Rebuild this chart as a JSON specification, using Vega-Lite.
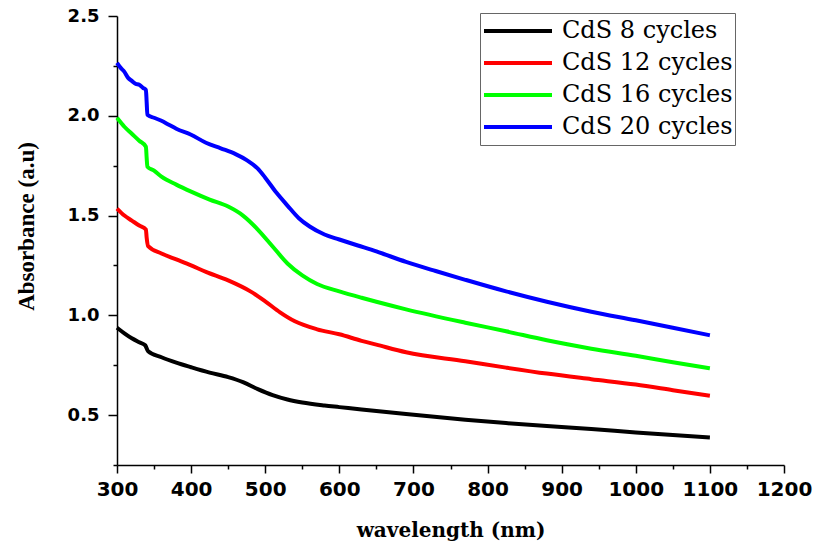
{
  "$schema": "https://vega.github.io/schema/vega-lite/v6.json",
  "width": 667,
  "height": 449,
  "autosize": {"type": "none"},
  "padding": {"left": 117, "top": 16, "right": 29, "bottom": 80},
  "background": "white",
  "data": {
    "values": [
      {"series": "CdS 20 cycles", "wl": 300, "abs": 2.265},
      {"series": "CdS 20 cycles", "wl": 305, "abs": 2.24},
      {"series": "CdS 20 cycles", "wl": 310, "abs": 2.22},
      {"series": "CdS 20 cycles", "wl": 315, "abs": 2.19},
      {"series": "CdS 20 cycles", "wl": 320, "abs": 2.175},
      {"series": "CdS 20 cycles", "wl": 325, "abs": 2.16},
      {"series": "CdS 20 cycles", "wl": 330, "abs": 2.155},
      {"series": "CdS 20 cycles", "wl": 335, "abs": 2.14},
      {"series": "CdS 20 cycles", "wl": 339, "abs": 2.13},
      {"series": "CdS 20 cycles", "wl": 340, "abs": 2.07},
      {"series": "CdS 20 cycles", "wl": 341, "abs": 2.005},
      {"series": "CdS 20 cycles", "wl": 350, "abs": 1.99},
      {"series": "CdS 20 cycles", "wl": 360, "abs": 1.975},
      {"series": "CdS 20 cycles", "wl": 370, "abs": 1.955},
      {"series": "CdS 20 cycles", "wl": 380, "abs": 1.935},
      {"series": "CdS 20 cycles", "wl": 400, "abs": 1.905},
      {"series": "CdS 20 cycles", "wl": 420, "abs": 1.865},
      {"series": "CdS 20 cycles", "wl": 440, "abs": 1.837},
      {"series": "CdS 20 cycles", "wl": 460, "abs": 1.808},
      {"series": "CdS 20 cycles", "wl": 475, "abs": 1.778},
      {"series": "CdS 20 cycles", "wl": 490, "abs": 1.735},
      {"series": "CdS 20 cycles", "wl": 500, "abs": 1.69},
      {"series": "CdS 20 cycles", "wl": 515, "abs": 1.615},
      {"series": "CdS 20 cycles", "wl": 530, "abs": 1.55},
      {"series": "CdS 20 cycles", "wl": 545, "abs": 1.488},
      {"series": "CdS 20 cycles", "wl": 560, "abs": 1.445},
      {"series": "CdS 20 cycles", "wl": 580, "abs": 1.405},
      {"series": "CdS 20 cycles", "wl": 600, "abs": 1.38},
      {"series": "CdS 20 cycles", "wl": 625, "abs": 1.35},
      {"series": "CdS 20 cycles", "wl": 650, "abs": 1.32},
      {"series": "CdS 20 cycles", "wl": 690, "abs": 1.268},
      {"series": "CdS 20 cycles", "wl": 730, "abs": 1.222},
      {"series": "CdS 20 cycles", "wl": 770, "abs": 1.178},
      {"series": "CdS 20 cycles", "wl": 825, "abs": 1.12},
      {"series": "CdS 20 cycles", "wl": 880, "abs": 1.068},
      {"series": "CdS 20 cycles", "wl": 940, "abs": 1.018},
      {"series": "CdS 20 cycles", "wl": 1000, "abs": 0.975},
      {"series": "CdS 20 cycles", "wl": 1050, "abs": 0.938},
      {"series": "CdS 20 cycles", "wl": 1100, "abs": 0.9},

      {"series": "CdS 16 cycles", "wl": 300, "abs": 1.99},
      {"series": "CdS 16 cycles", "wl": 310, "abs": 1.945},
      {"series": "CdS 16 cycles", "wl": 320, "abs": 1.91},
      {"series": "CdS 16 cycles", "wl": 330, "abs": 1.875},
      {"series": "CdS 16 cycles", "wl": 339, "abs": 1.845},
      {"series": "CdS 16 cycles", "wl": 340, "abs": 1.79},
      {"series": "CdS 16 cycles", "wl": 341, "abs": 1.745},
      {"series": "CdS 16 cycles", "wl": 350, "abs": 1.725},
      {"series": "CdS 16 cycles", "wl": 360, "abs": 1.695},
      {"series": "CdS 16 cycles", "wl": 380, "abs": 1.655},
      {"series": "CdS 16 cycles", "wl": 400, "abs": 1.62},
      {"series": "CdS 16 cycles", "wl": 425, "abs": 1.58},
      {"series": "CdS 16 cycles", "wl": 450, "abs": 1.545},
      {"series": "CdS 16 cycles", "wl": 470, "abs": 1.5},
      {"series": "CdS 16 cycles", "wl": 490, "abs": 1.43},
      {"series": "CdS 16 cycles", "wl": 510, "abs": 1.345},
      {"series": "CdS 16 cycles", "wl": 530, "abs": 1.26},
      {"series": "CdS 16 cycles", "wl": 550, "abs": 1.2},
      {"series": "CdS 16 cycles", "wl": 570, "abs": 1.157},
      {"series": "CdS 16 cycles", "wl": 600, "abs": 1.12},
      {"series": "CdS 16 cycles", "wl": 630, "abs": 1.088},
      {"series": "CdS 16 cycles", "wl": 650, "abs": 1.068},
      {"series": "CdS 16 cycles", "wl": 690, "abs": 1.03},
      {"series": "CdS 16 cycles", "wl": 770, "abs": 0.963},
      {"series": "CdS 16 cycles", "wl": 825, "abs": 0.92},
      {"series": "CdS 16 cycles", "wl": 880, "abs": 0.875},
      {"series": "CdS 16 cycles", "wl": 940, "abs": 0.833},
      {"series": "CdS 16 cycles", "wl": 1000, "abs": 0.797},
      {"series": "CdS 16 cycles", "wl": 1050, "abs": 0.765},
      {"series": "CdS 16 cycles", "wl": 1100, "abs": 0.735},

      {"series": "CdS 12 cycles", "wl": 300, "abs": 1.535},
      {"series": "CdS 12 cycles", "wl": 310, "abs": 1.5},
      {"series": "CdS 12 cycles", "wl": 320, "abs": 1.475},
      {"series": "CdS 12 cycles", "wl": 330, "abs": 1.45},
      {"series": "CdS 12 cycles", "wl": 339, "abs": 1.43},
      {"series": "CdS 12 cycles", "wl": 340, "abs": 1.39},
      {"series": "CdS 12 cycles", "wl": 342, "abs": 1.347},
      {"series": "CdS 12 cycles", "wl": 360, "abs": 1.31},
      {"series": "CdS 12 cycles", "wl": 380, "abs": 1.28},
      {"series": "CdS 12 cycles", "wl": 400, "abs": 1.25},
      {"series": "CdS 12 cycles", "wl": 420, "abs": 1.218},
      {"series": "CdS 12 cycles", "wl": 450, "abs": 1.175},
      {"series": "CdS 12 cycles", "wl": 480, "abs": 1.12},
      {"series": "CdS 12 cycles", "wl": 500, "abs": 1.07},
      {"series": "CdS 12 cycles", "wl": 520, "abs": 1.015},
      {"series": "CdS 12 cycles", "wl": 540, "abs": 0.97},
      {"series": "CdS 12 cycles", "wl": 570, "abs": 0.93},
      {"series": "CdS 12 cycles", "wl": 600, "abs": 0.905},
      {"series": "CdS 12 cycles", "wl": 630, "abs": 0.872},
      {"series": "CdS 12 cycles", "wl": 650, "abs": 0.853},
      {"series": "CdS 12 cycles", "wl": 690, "abs": 0.815},
      {"series": "CdS 12 cycles", "wl": 770, "abs": 0.77},
      {"series": "CdS 12 cycles", "wl": 825, "abs": 0.738},
      {"series": "CdS 12 cycles", "wl": 880, "abs": 0.708},
      {"series": "CdS 12 cycles", "wl": 940, "abs": 0.68},
      {"series": "CdS 12 cycles", "wl": 1000, "abs": 0.653},
      {"series": "CdS 12 cycles", "wl": 1050, "abs": 0.625},
      {"series": "CdS 12 cycles", "wl": 1100, "abs": 0.597},

      {"series": "CdS 8 cycles", "wl": 300, "abs": 0.938},
      {"series": "CdS 8 cycles", "wl": 310, "abs": 0.91},
      {"series": "CdS 8 cycles", "wl": 320, "abs": 0.885},
      {"series": "CdS 8 cycles", "wl": 330, "abs": 0.865},
      {"series": "CdS 8 cycles", "wl": 338, "abs": 0.85},
      {"series": "CdS 8 cycles", "wl": 342, "abs": 0.82},
      {"series": "CdS 8 cycles", "wl": 360, "abs": 0.79},
      {"series": "CdS 8 cycles", "wl": 380, "abs": 0.763},
      {"series": "CdS 8 cycles", "wl": 400, "abs": 0.74},
      {"series": "CdS 8 cycles", "wl": 425, "abs": 0.713},
      {"series": "CdS 8 cycles", "wl": 450, "abs": 0.69},
      {"series": "CdS 8 cycles", "wl": 470, "abs": 0.665},
      {"series": "CdS 8 cycles", "wl": 490, "abs": 0.63},
      {"series": "CdS 8 cycles", "wl": 510, "abs": 0.6},
      {"series": "CdS 8 cycles", "wl": 530, "abs": 0.578},
      {"series": "CdS 8 cycles", "wl": 550, "abs": 0.563},
      {"series": "CdS 8 cycles", "wl": 580, "abs": 0.548},
      {"series": "CdS 8 cycles", "wl": 600, "abs": 0.54},
      {"series": "CdS 8 cycles", "wl": 630, "abs": 0.528},
      {"series": "CdS 8 cycles", "wl": 690, "abs": 0.505},
      {"series": "CdS 8 cycles", "wl": 770, "abs": 0.477},
      {"series": "CdS 8 cycles", "wl": 825, "abs": 0.46},
      {"series": "CdS 8 cycles", "wl": 880, "abs": 0.445},
      {"series": "CdS 8 cycles", "wl": 940, "abs": 0.43},
      {"series": "CdS 8 cycles", "wl": 1000, "abs": 0.413},
      {"series": "CdS 8 cycles", "wl": 1050, "abs": 0.4},
      {"series": "CdS 8 cycles", "wl": 1100, "abs": 0.388}
    ]
  },
  "mark": {"type": "line", "strokeWidth": 4, "strokeJoin": "round", "strokeCap": "butt", "interpolate": "monotone"},
  "encoding": {
    "x": {
      "field": "wl",
      "type": "quantitative",
      "scale": {"domain": [300, 1200], "nice": false, "zero": false},
      "axis": {
        "title": "wavelength (nm)",
        "values": [300, 350, 400, 450, 500, 550, 600, 650, 700, 750, 800, 850, 900, 950, 1000, 1050, 1100, 1150, 1200],
        "format": "d",
        "labelExpr": "datum.value % 100 === 0 ? datum.label : ''",
        "tickSize": {"expr": "datum.value % 100 === 0 ? 8 : 4"},
        "labelFont": "DejaVu Sans",
        "labelFontWeight": "bold",
        "labelFontSize": 20,
        "labelPadding": 6,
        "labelColor": "black",
        "labelFlush": false,
        "labelOverlap": false,
        "titleFont": "DejaVu Serif",
        "titleFontWeight": "bold",
        "titleFontSize": 20,
        "titleColor": "black",
        "titleBaseline": "alphabetic",
        "titleY": 71,
        "titleX": 333.5,
        "titleAnchor": null
      }
    },
    "y": {
      "field": "abs",
      "type": "quantitative",
      "scale": {"domain": [0.25, 2.5], "nice": false, "zero": false},
      "axis": {
        "title": "Absorbance (a.u)",
        "values": [0.25, 0.5, 0.75, 1.0, 1.25, 1.5, 1.75, 2.0, 2.25, 2.5],
        "format": ".1f",
        "labelExpr": "abs(datum.value * 2 - round(datum.value * 2)) < 0.01 ? datum.label : ''",
        "tickSize": {"expr": "abs(datum.value * 2 - round(datum.value * 2)) < 0.01 ? 9 : 4"},
        "labelFont": "DejaVu Sans",
        "labelFontWeight": "bold",
        "labelFontSize": 18,
        "labelPadding": 9,
        "labelColor": "black",
        "labelFlush": false,
        "labelOverlap": false,
        "titleFont": "Liberation Serif",
        "titleFontWeight": "bold",
        "titleFontSize": 23,
        "titleColor": "black",
        "titleAngle": -90,
        "titleBaseline": "alphabetic",
        "titleAlign": "center",
        "titleX": -84,
        "titleY": 210,
        "titleAnchor": null
      }
    },
    "color": {
      "field": "series",
      "type": "nominal",
      "scale": {
        "domain": ["CdS 8 cycles", "CdS 12 cycles", "CdS 16 cycles", "CdS 20 cycles"],
        "range": ["#000000", "#ff0000", "#00ff00", "#0000ff"]
      },
      "legend": {
        "title": null,
        "orient": "none",
        "legendX": 363,
        "legendY": -3,
        "symbolType": "stroke",
        "symbolSize": 4624,
        "symbolStrokeWidth": 4,
        "clipHeight": 32,
        "rowPadding": 0,
        "padding": 2,
        "labelOffset": 8,
        "labelFont": "DejaVu Serif",
        "labelFontSize": 24,
        "labelColor": "black",
        "labelLimit": 400,
        "strokeColor": "#666666",
        "fillColor": "white"
      }
    }
  },
  "config": {
    "view": {"stroke": null},
    "axis": {
      "grid": false,
      "domainColor": "black",
      "domainWidth": 1.5,
      "tickColor": "black",
      "tickWidth": 1.5
    }
  }
}
